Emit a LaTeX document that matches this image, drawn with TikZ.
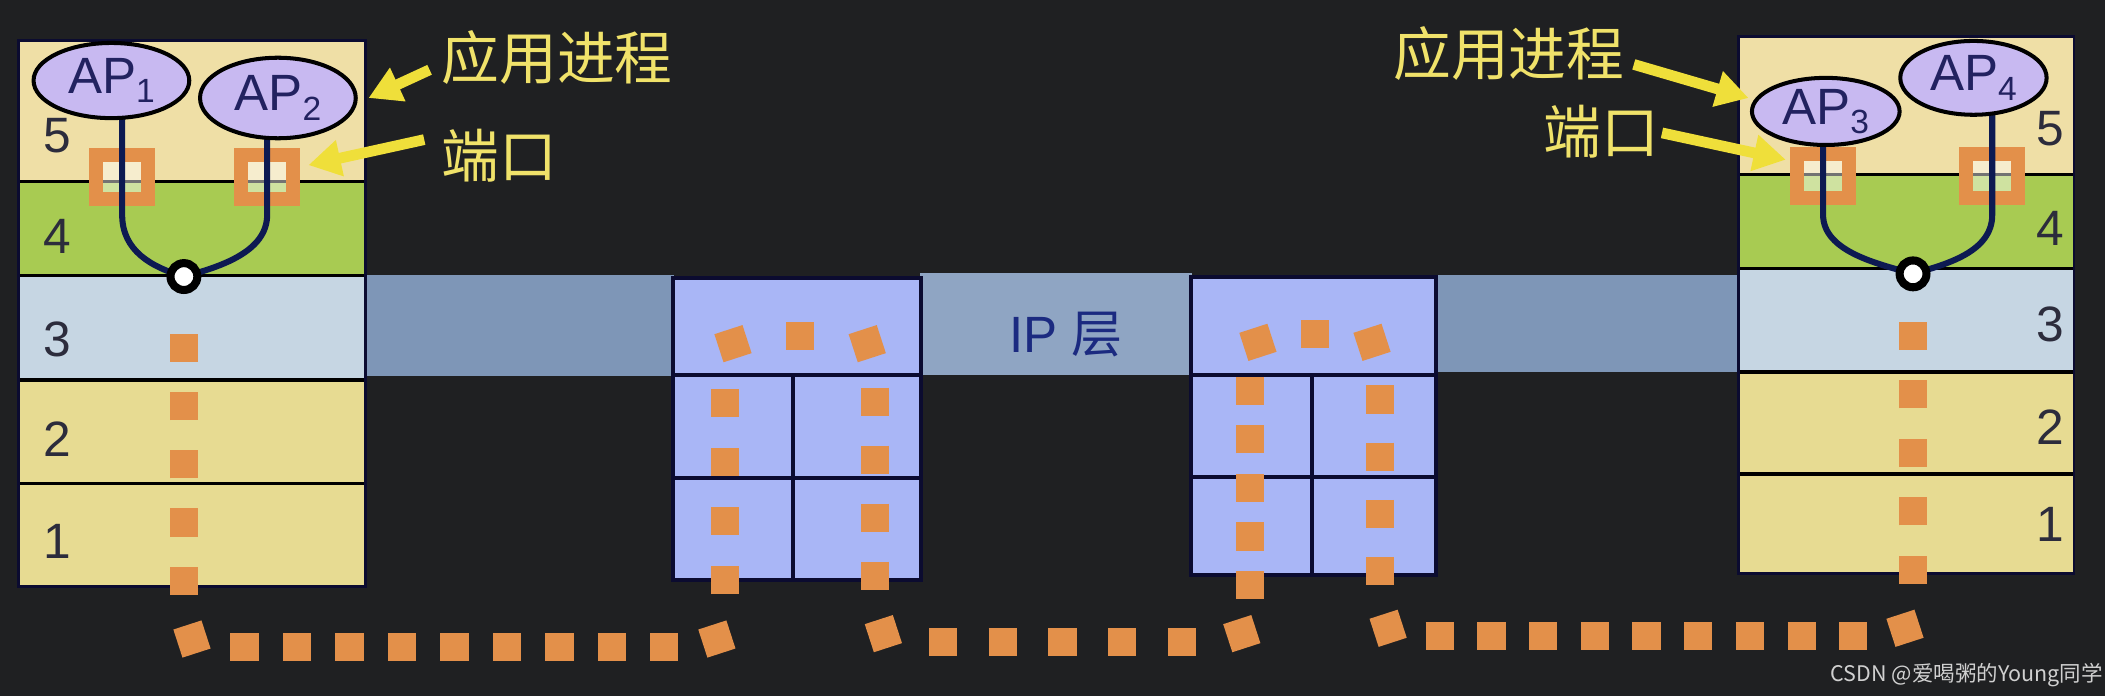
\documentclass[tikz,border=0pt]{standalone}
\usepackage{fontspec}
\setmainfont{Liberation Sans}
\newfontfamily\cjk{Noto Sans CJK SC}
\usetikzlibrary{arrows.meta,shapes.geometric}
\definecolor{bg}{HTML}{1F2022}
\definecolor{lfive}{HTML}{EFDFA6}
\definecolor{lfour}{HTML}{A8CB52}
\definecolor{lthree}{HTML}{C6D6E3}
\definecolor{lone}{HTML}{E7DB92}
\definecolor{rtr}{HTML}{A9B6F6}
\definecolor{band}{HTML}{7E96B7}
\definecolor{bandm}{HTML}{8FA5C3}
\definecolor{orng}{HTML}{E3904A}
\definecolor{navy}{HTML}{0D1A52}
\definecolor{lav}{HTML}{C8B9F1}
\definecolor{ylw}{HTML}{EFDF3A}
\definecolor{ytxt}{HTML}{F0E26A}
\definecolor{edge}{HTML}{0B0B30}
\definecolor{digit}{HTML}{2C2C3C}
\definecolor{iptc}{HTML}{1B2A80}
\definecolor{aptxt}{HTML}{222260}
\definecolor{wmc}{HTML}{D0D0D0}
\newcommand\apsub[1]{\raisebox{-7pt}{\fontsize{25}{25}\selectfont #1}}
\begin{document}
\begin{tikzpicture}[x=1pt,y=-1pt,
  lay/.style={inner sep=0pt, outer sep=0pt, anchor=north west, draw=none},
  sepline/.style={draw=black, line width=2.5pt},
  outl/.style={draw=edge, line width=2pt},
  num/.style={text=digit, font=\fontsize{37}{40}\selectfont, inner sep=0pt},
  rbox/.style={fill=rtr, draw=edge, line width=3pt, inner sep=0pt, outer sep=0pt, anchor=north west},
  bandbox/.style={inner sep=0pt, outer sep=0pt, anchor=north west},
  ap/.style={ellipse, draw=black, line width=3pt, fill=lav, inner sep=0pt, text=aptxt, font=\fontsize{38}{40}\selectfont},
  port/.style={draw=orng, line width=10.5pt, minimum width=39pt, minimum height=33pt, inner sep=0pt, fill=white, fill opacity=0.45},
  knot/.style={circle, draw=black, line width=6pt, fill=white, minimum size=20pt, inner sep=0pt},
  bline/.style={draw=navy, line width=4.5pt},
  dleg/.style={draw=orng, line width=21pt, dash phase=21pt, shorten <=10.5pt, shorten >=11.5pt},
  cdot/.style={fill=orng, minimum size=22pt, inner sep=0pt, outer sep=0pt, rotate=18},
  ylab/.style={text=ytxt, font=\cjk\fontsize{43}{46}\selectfont, inner sep=0pt},
  yarrow/.style={draw=ylw, line width=8pt, -{Triangle[length=24pt,width=26pt]}},
  iptxt/.style={text=iptc, font=\fontsize{38}{40}\selectfont, inner sep=0pt},
  wm/.style={text=wmc, font=\cjk\fontsize{16}{18}\selectfont, inner sep=0pt}
]
\useasboundingbox (0,0) rectangle (1568,518.5);
\fill[bg] (0,0) rectangle (1568,518.5);

% IP bands
\node[bandbox, fill=band, minimum width=232pt, minimum height=75pt] (b1) at (270,205) {};
\node[bandbox, fill=bandm, minimum width=203pt, minimum height=76pt] (b2) at (685,203) {};
\node[bandbox, fill=band, minimum width=228pt, minimum height=72pt] (b3) at (1069,205) {};

% left stack
\node[lay, fill=lfive, minimum width=258pt, minimum height=105pt] (s1l5) at (14,30) {};
\node[lay, fill=lfour, minimum width=258pt, minimum height=70pt] (s1l4) at (14,135) {};
\node[lay, fill=lthree, minimum width=258pt, minimum height=78pt] (s1l3) at (14,205) {};
\node[lay, fill=lone, minimum width=258pt, minimum height=77pt] (s1l2) at (14,283) {};
\node[lay, fill=lone, minimum width=258pt, minimum height=77pt] (s1l1) at (14,360) {};
\draw[sepline] (s1l5.south west) -- (s1l5.south east);
\draw[sepline] (s1l4.south west) -- (s1l4.south east);
\draw[sepline] (s1l3.south west) -- (s1l3.south east);
\draw[sepline] (s1l2.south west) -- (s1l2.south east);
\draw[outl] (s1l5.north west) rectangle (s1l1.south east);

% right stack
\node[lay, fill=lfive, minimum width=250pt, minimum height=103pt] (s2l5) at (1295,27) {};
\node[lay, fill=lfour, minimum width=250pt, minimum height=70pt] (s2l4) at (1295,130) {};
\node[lay, fill=lthree, minimum width=250pt, minimum height=77pt] (s2l3) at (1295,200) {};
\node[lay, fill=lone, minimum width=250pt, minimum height=76pt] (s2l2) at (1295,277) {};
\node[lay, fill=lone, minimum width=250pt, minimum height=74pt] (s2l1) at (1295,353) {};
\draw[sepline] (s2l5.south west) -- (s2l5.south east);
\draw[sepline] (s2l4.south west) -- (s2l4.south east);
\draw[sepline] (s2l3.south west) -- (s2l3.south east);
\draw[sepline] (s2l2.south west) -- (s2l2.south east);
\draw[outl] (s2l5.north west) rectangle (s2l1.south east);

% routers
\node[rbox, minimum width=185pt, minimum height=72pt] (r1ip) at (501,207) {};
\node[rbox, minimum width=90pt, minimum height=77pt] (r1a) at (501,279) {};
\node[rbox, minimum width=95pt, minimum height=77pt] (r1b) at (591,279) {};
\node[rbox, minimum width=90pt, minimum height=76pt] (r1c) at (501,356) {};
\node[rbox, minimum width=95pt, minimum height=76pt] (r1d) at (591,356) {};
\node[rbox, minimum width=183pt, minimum height=73pt] (r2ip) at (887,206) {};
\node[rbox, minimum width=90pt, minimum height=76pt] (r2a) at (887,279) {};
\node[rbox, minimum width=93pt, minimum height=76pt] (r2b) at (977,279) {};
\node[rbox, minimum width=90pt, minimum height=73pt] (r2c) at (887,355) {};
\node[rbox, minimum width=93pt, minimum height=73pt] (r2d) at (977,355) {};

\node[iptxt] (iplab) at (794,249) {IP {\cjk 层}};

% layer numbers
\node[num] (n15) at (43,101) {5};
\node[num] (n14) at (43,176) {4};
\node[num] (n13) at (43,253) {3};
\node[num] (n12) at (43,327) {2};
\node[num] (n11) at (43,403) {1};
\node[num] (n25) at (1527,96) {5};
\node[num] (n24) at (1527,170) {4};
\node[num] (n23) at (1527,242) {3};
\node[num] (n22) at (1527,318) {2};
\node[num] (n21) at (1527,391) {1};

% ports
\node[port] (p1) at (91,132) {};
\node[port] (p2) at (199,132) {};
\node[port] (p3) at (1358,131) {};
\node[port] (p4) at (1484,131) {};

% knot positions
\coordinate (k1c) at (137,206);
\coordinate (k2c) at (1425,204);

% route corners
\coordinate (c1) at (137,482);
\coordinate (c2) at (540,482);
\coordinate (c3) at (540,250);
\coordinate (c4) at (652,250);
\coordinate (c5) at (652,478);
\coordinate (c6) at (931,478);
\coordinate (c7) at (931,249);
\coordinate (c8) at (1028,249);
\coordinate (c9) at (1028,474);
\coordinate (c10) at (1425,474);

% corner squares
\node[cdot] (q1) at (143,476) {};
\node[cdot] (q2) at (534,476) {};
\node[cdot] (q3) at (546,256) {};
\node[cdot] (q4) at (646,256) {};
\node[cdot] (q5) at (658,472) {};
\node[cdot] (q6) at (925,472) {};
\node[cdot] (q7) at (937,255) {};
\node[cdot] (q8) at (1022,255) {};
\node[cdot] (q9) at (1034,468) {};
\node[cdot] (q10) at (1419,468) {};

% dotted legs
\draw[dleg, dash pattern=on 21pt off 22.4pt, shorten >=30pt] (c1 |- q1.center) -- (k1c);
\draw[dleg, dash pattern=on 21pt off 18.1pt] (q1.center |- c1) -- (q2.center |- c1);
\draw[dleg, dash pattern=on 21pt off 23pt] (c2 |- q2.center) -- (c2 |- q3.center);
\draw[dleg, dash pattern=on 21pt off 29pt] (q3.center |- c3) -- (q4.center |- c3);
\draw[dleg, dash pattern=on 21pt off 22.2pt] (c4 |- q4.center) -- (c4 |- q5.center);
\draw[dleg, dash pattern=on 21pt off 23.5pt] (q5.center |- c5) -- (q6.center |- c5);
\draw[dleg, dash pattern=on 21pt off 15.2pt] (c6 |- q6.center) -- (c6 |- q7.center);
\draw[dleg, dash pattern=on 21pt off 21.5pt] (q7.center |- c7) -- (q8.center |- c7);
\draw[dleg, dash pattern=on 21pt off 21.6pt] (c8 |- q8.center) -- (c8 |- q9.center);
\draw[dleg, dash pattern=on 21pt off 17.5pt] (q9.center |- c9) -- (q10.center |- c9);
\draw[dleg, dash pattern=on 21pt off 22.6pt, shorten >=32pt] (c10 |- q10.center) -- (k2c);

% ellipse centres
\path (83,60) coordinate (ap1c) (207,73) coordinate (ap2c) (1360,83) coordinate (ap3c) (1470,58) coordinate (ap4c);

% blue curves
\draw[bline] (p1.center |- ap1c) -- ++(0,100) .. controls +(0,27) and +(-24,-7) .. (k1c);
\draw[bline] (p2.center |- ap2c) -- ++(0,87) .. controls +(0,28) and +(26,-7) .. (k1c);
\draw[bline] (p3.center |- ap3c) -- ++(0,77) .. controls +(0,28) and +(-24,-7) .. (k2c);
\draw[bline] (p4.center |- ap4c) -- ++(0,102) .. controls +(0,28) and +(24,-7) .. (k2c);

\node[ap, minimum width=116pt, minimum height=56pt] (ap1) at (ap1c) {AP\apsub{1}};
\node[ap, minimum width=116pt, minimum height=60pt] (ap2) at (ap2c) {AP\apsub{2}};
\node[ap, minimum width=110pt, minimum height=50pt] (ap3) at (ap3c) {AP\apsub{3}};
\node[ap, minimum width=109pt, minimum height=55pt] (ap4) at (ap4c) {AP\apsub{4}};

\node[knot] (k1) at (k1c) {};
\node[knot] (k2) at (k2c) {};

% labels and arrows
\node[ylab] (lab1) at (415,43) {应用进程};
\node[ylab] (lab2) at (372,116) {端口};
\node[ylab] (lab3) at (1124,40) {应用进程};
\node[ylab] (lab4) at (1193,98) {端口};
\coordinate (t1) at (320,52);
\coordinate (t2) at (316,104);
\coordinate (t3) at (1217,48);
\coordinate (t4) at (1238,99);
\draw[yarrow] (t1) -- ([xshift=8pt]ap2.east);
\draw[yarrow] (t2) -- ([xshift=6pt,yshift=9pt]p2.east);
\draw[yarrow] (t3) -- ([xshift=-1pt,yshift=10pt]ap3.west);
\draw[yarrow] (t4) -- ([xshift=-3pt,yshift=12pt]p3.west);

\node[wm] (wm) at (1465,503) {CSDN @爱喝粥的Young同学};
\end{tikzpicture}
\end{document}
